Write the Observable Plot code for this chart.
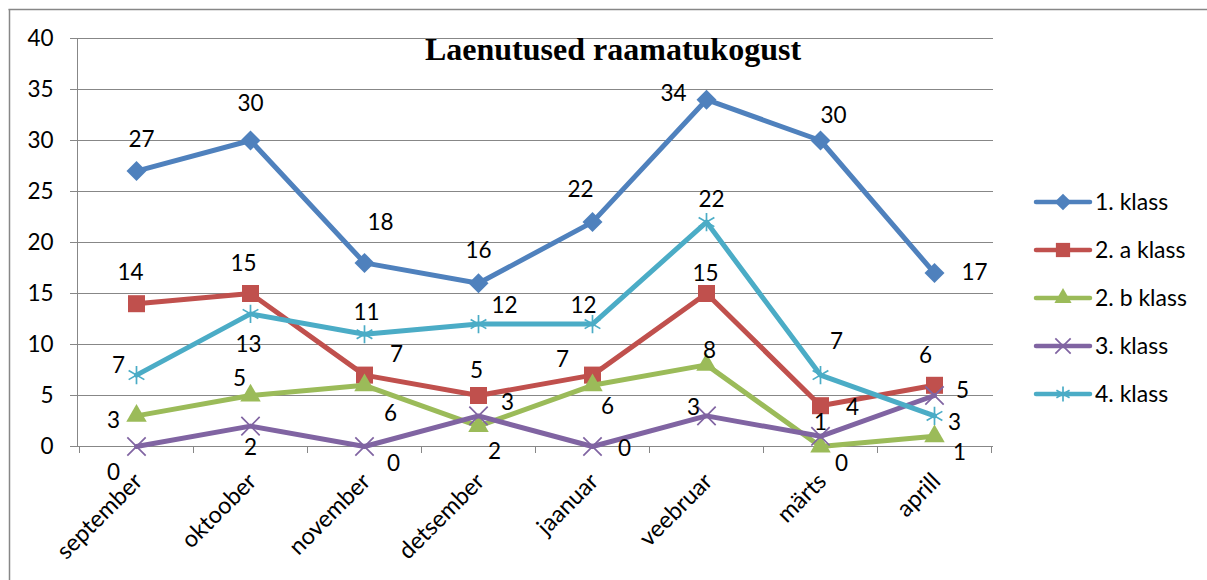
<!DOCTYPE html>
<html><head><meta charset="utf-8">
<script src="https://cdn.jsdelivr.net/npm/d3@7"></script>
<script src="https://cdn.jsdelivr.net/npm/@observablehq/plot@0.6"></script>
<style>
body{margin:0;background:#fff;}
#chart{position:relative;width:1207px;height:580px;overflow:hidden;background:#fff;}
svg{font-family:Lato,"Open Sans",sans-serif;}
</style></head><body><div id="chart"></div>
<script>
const title = "Laenutused raamatukogust";
const months = ["september","oktoober","november","detsember","jaanuar","veebruar","märts","aprill"];
const seriesNames = ["1. klass","2. a klass","2. b klass","3. klass","4. klass"];
const klass1  = [27,30,18,16,22,34,30,17];
const klass2a = [14,15,7,5,7,15,4,6];
const klass2b = [3,5,6,2,6,8,0,1];
const klass3  = [0,2,0,3,0,3,1,5];
const klass4  = [7,13,11,12,12,22,7,3];
const yTicks = [0,5,10,15,20,25,30,35,40];

// styling / layout
const seriesValues = [klass1, klass2a, klass2b, klass3, klass4];
const colors = ["#4F81BD","#C0504D","#9BBB59","#8064A2","#4BACC6"];
const symbols = ["diamond2","square","triangle","times","asterisk"];
const symbolR = [9.0, 9.6, 7.6, 8.4, 8.6];
const filled = [true,true,true,false,false];
const labelDx = [
  [5,0,16,0,-12,-33,13,40],
  [-6,-7,32,-2,-30,-1,32,-9],
  [-23,-11,26,16,15,3,21,25],
  [-23,0,29,29,32,-13,0,28],
  [-18,-2,2,26,-9,5,16,20]
];
const labelDy = [
  [-31,-37,-40,-33,-32,-6,-25,0],
  [-31,-30,-20,-25,-15,-20,2,-30],
  [5,-17,28,26,21,-14,17,16],
  [26,22,17,-13,2,-8,-14,-5],
  [-9,31,-22,-18,-18,-22,-33,7]
];
const grid = "#878787";

const rows = seriesNames.flatMap((name, si) =>
  months.map((m, i) => ({series: name, si, i, month: m, value: seriesValues[si][i]})));

const marks = [
  Plot.ruleY(yTicks, {stroke: grid, strokeWidth: 1}),
  Plot.frame({anchor: "left", stroke: grid}),
  Plot.axisY({ticks: yTicks, tickSize: 7, tickPadding: 17, fontSize: 22.5, label: null}),
  Plot.axisX({tickRotate: -45, tickSize: 0, tickPadding: 31, dx: 2, fontSize: 23.5, label: null})
];
seriesNames.forEach((name, si) => {
  const d = rows.filter(r => r.si === si);
  marks.push(Plot.line(d, {x: "month", y: "value", stroke: colors[si], strokeWidth: 5,
    strokeLinejoin: "round", strokeLinecap: "round"}));
  marks.push(Plot.dot(d, {x: "month", y: "value", symbol: symbols[si], r: symbolR[si],
    fill: filled[si] ? colors[si] : "none", stroke: filled[si] ? "none" : colors[si],
    strokeWidth: filled[si] ? 0 : 1.7}));
});
rows.forEach(r => marks.push(Plot.text([r], {x: "month", y: "value", text: d => String(d.value),
  dx: labelDx[r.si][r.i], dy: labelDy[r.si][r.i], fontSize: 22.5, fill: "#000"})));

const plot = Plot.plot({
  width: 1207, height: 580,
  marginLeft: 77, marginRight: 214, marginTop: 38, marginBottom: 134,
  style: {fontFamily: "Lato, 'Open Sans', sans-serif", color: "#000", background: "#fff", overflow: "visible"},
  x: {type: "point", domain: months, padding: 0.5},
  y: {domain: [0, 40]},
  marks
});
document.getElementById("chart").appendChild(plot);

const svg = d3.select(plot);
svg.selectAll("g[aria-label='y-axis tick'] path, g[aria-label='y-axis tick'] line").attr("stroke", grid);

// x-axis boundary tick marks (from the x scale)
const xs = plot.scale("x");
const x0 = xs.apply(months[0]), step = xs.apply(months[1]) - x0;
const ys = plot.scale("y");
const yBase = ys.apply(0);
const gt = svg.append("g");
for (let i = 0; i <= months.length; i++) {
  const xx = Math.round(x0 - step / 2 + i * step) + 0.5;
  gt.append("line").attr("x1", xx).attr("x2", xx).attr("y1", yBase).attr("y2", yBase + 7)
    .attr("stroke", grid).attr("stroke-width", 1);
}

// title
svg.append("text").attr("x", 613).attr("y", 60).attr("text-anchor", "middle")
  .style("font-family", "'Liberation Serif','Times New Roman',serif").style("font-weight", "bold")
  .style("font-size", "32px").attr("fill", "#000").text(title);

// legend
const lg = svg.append("g").attr("text-anchor", "start");
const legendY = [202, 250, 298, 346, 394];
const symMap = {diamond2: d3.symbolDiamond2, square: d3.symbolSquare, triangle: d3.symbolTriangle,
  times: d3.symbolTimes, asterisk: d3.symbolAsterisk};
seriesNames.forEach((name, si) => {
  const y = legendY[si];
  lg.append("line").attr("x1", 1036).attr("x2", 1090).attr("y1", y).attr("y2", y)
    .attr("stroke", colors[si]).attr("stroke-width", 4.5).attr("stroke-linecap", "round");
  const size = Math.PI * symbolR[si] * symbolR[si] * 0.7;
  lg.append("path").attr("transform", `translate(1063,${y})`)
    .attr("d", d3.symbol(symMap[symbols[si]], size)())
    .attr("fill", filled[si] ? colors[si] : "none")
    .attr("stroke", filled[si] ? "none" : colors[si]).attr("stroke-width", 1.7);
  lg.append("text").attr("x", 1095).attr("y", y).attr("dy", "0.35em").attr("text-anchor", "start")
    .style("font-size", "23px").attr("fill", "#000").text(name);
});

// outer border (top and left edges visible)
svg.append("line").attr("x1", 8.5).attr("x2", 1207).attr("y1", 9.5).attr("y2", 9.5).attr("stroke", grid).attr("stroke-width", 1.5);
svg.append("line").attr("x1", 9.5).attr("x2", 9.5).attr("y1", 9).attr("y2", 580).attr("stroke", grid).attr("stroke-width", 1.5);
</script></body></html>
